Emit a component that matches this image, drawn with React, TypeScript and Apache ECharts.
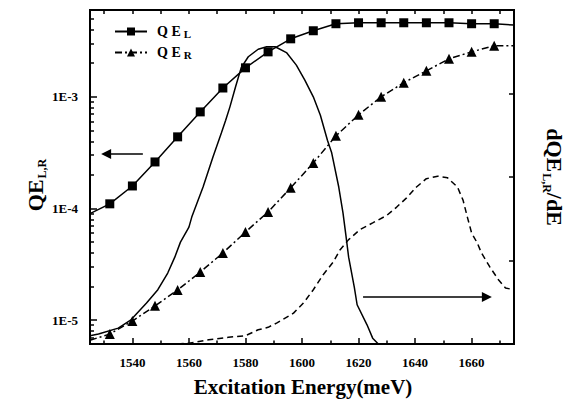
import React, { useEffect, useRef } from 'react';
import * as echarts from 'echarts';

// Excitation energies (meV) of the plotted markers
const energyMarkers = [1532, 1540, 1548, 1556, 1564, 1572, 1580, 1588, 1596, 1604, 1612, 1620, 1628, 1636, 1644, 1652, 1660, 1668];
// Quantum efficiency, left (squares) and right (triangles)
const qeL = [1.10e-4, 1.59e-4, 2.61e-4, 4.38e-4, 7.33e-4, 1.20e-3, 1.82e-3, 2.53e-3, 3.31e-3, 3.91e-3, 4.52e-3, 4.61e-3, 4.61e-3, 4.61e-3, 4.61e-3, 4.61e-3, 4.52e-3, 4.52e-3];
const qeR = [7.48e-6, 9.8e-6, 1.34e-5, 1.86e-5, 2.69e-5, 3.99e-5, 6.15e-5, 9.31e-5, 1.53e-4, 2.56e-4, 4.47e-4, 6.9e-4, 1.0e-3, 1.34e-3, 1.71e-3, 2.19e-3, 2.53e-3, 2.87e-3];
// Curve ends (no marker)
const qeEdgeEnergy = [1525, 1675];
const qeLEdge = [9.0e-5, 4.4e-3];
const qeREdge = [6.6e-6, 2.87e-3];

// Derivative curves (right axis, arbitrary units)
const dEnergyL = [1525, 1528, 1535, 1539.5, 1545, 1549, 1552.5, 1555, 1557, 1560, 1561, 1565, 1568.5, 1571.5, 1573, 1574.5, 1576.5, 1578.5, 1581, 1584.5, 1587.5, 1590.5, 1594.5, 1598, 1601, 1604, 1606.5, 1609, 1610.5, 1613, 1614.5, 1615.5, 1616.5, 1618.5, 1619.5, 1623, 1625, 1627, 1675];
const dQEL = [0.10, 0.12, 0.19, 0.29, 0.49, 0.65, 0.85, 1.04, 1.22, 1.40, 1.52, 1.88, 2.24, 2.53, 2.68, 2.84, 3.08, 3.31, 3.44, 3.53, 3.56, 3.56, 3.49, 3.34, 3.16, 2.96, 2.74, 2.44, 2.29, 1.88, 1.57, 1.31, 1.04, 0.68, 0.47, 0.23, 0.07, 0.0, 0.0];
const dEnergyR = [1556, 1560, 1567, 1574, 1580, 1584.5, 1588, 1591, 1597, 1600.5, 1604, 1607.5, 1611, 1613.5, 1616.5, 1620.5, 1625, 1630, 1633.5, 1637, 1640.5, 1644, 1648, 1651.5, 1655, 1657, 1658.5, 1660, 1662, 1663.5, 1666.5, 1669.5, 1672, 1675];
const dQER = [0.0, 0.01, 0.05, 0.08, 0.10, 0.17, 0.20, 0.25, 0.37, 0.49, 0.65, 0.83, 0.98, 1.13, 1.25, 1.37, 1.45, 1.54, 1.64, 1.75, 1.88, 1.98, 2.01, 1.99, 1.88, 1.72, 1.52, 1.33, 1.21, 1.09, 0.92, 0.77, 0.67, 0.65];

// Axis ranges and ticks
const X_MIN = 1525;
const X_MAX = 1675;
const Y_MIN = 6.1e-6;
const Y_MAX = 6.0e-3;
const R_MAX = 4;
const xMajorTicks = [1540, 1560, 1580, 1600, 1620, 1640, 1660];
const xMinorTicks = [1530, 1550, 1570, 1590, 1610, 1630, 1650, 1670];
const yMajorTicks = [1e-5, 1e-4, 1e-3];
const yMinorTicks = [7e-6, 8e-6, 9e-6, 2e-5, 3e-5, 4e-5, 5e-5, 6e-5, 7e-5, 8e-5, 9e-5, 2e-4, 3e-4, 4e-4, 5e-4, 6e-4, 7e-4, 8e-4, 9e-4, 2e-3, 3e-3, 4e-3, 5e-3];

// Arrows: [x start, x end, y]
const leftArrow = [1530.7, 1543.7, 3.08e-4];
const rightArrow = [1621.6, 1665.4, 0.563];

const FONT = 'Liberation Serif';
const GRID = { left: 90, right: 53, top: 10, bottom: 55 };
const W = 567;
const H = 399;

function withEdges(ys: number[], edge: number[]) {
  const pts: any[] = energyMarkers.map((x, i) => ({ value: [x, ys[i]] }));
  return [
    { value: [qeEdgeEnergy[0], edge[0]], symbol: 'none' },
    ...pts,
    { value: [qeEdgeEnergy[1], edge[1]], symbol: 'none' },
  ];
}

export default function App() {
  const ref = useRef<HTMLDivElement>(null);
  useEffect(() => {
    if (!ref.current) return;
    const chart = echarts.init(ref.current, null, { renderer: 'svg' });
    const plotW = W - GRID.left - GRID.right;
    const plotH = H - GRID.top - GRID.bottom;
    // tick lengths expressed in axis units of the grid
    const rPerPx = R_MAX / plotH;
    const xPerPx = (X_MAX - X_MIN) / plotW;
    const decadePerPx = Math.log10(Y_MAX / Y_MIN) / plotH;
    const xTickLines = [
      ...xMajorTicks.map((v) => [{ coord: [v, 0] }, { coord: [v, 6 * rPerPx] }]),
      ...xMinorTicks.map((v) => [{ coord: [v, 0] }, { coord: [v, 3.5 * rPerPx] }]),
      ...[...xMajorTicks, ...xMinorTicks].map((v) => [{ coord: [v, R_MAX] }, { coord: [v, R_MAX - 4 * rPerPx] }]),
    ];
    const yTickLines = [
      ...yMajorTicks.map((v) => [{ coord: [X_MIN, v] }, { coord: [X_MIN + 7 * xPerPx, v] }]),
      ...yMinorTicks.map((v) => [{ coord: [X_MIN, v] }, { coord: [X_MIN + 4 * xPerPx, v] }]),
    ];
    void decadePerPx;
    const tickMarkLine = (data: any[]) => ({
      silent: true,
      symbol: ['none', 'none'],
      label: { show: false },
      emphasis: { disabled: true },
      lineStyle: { color: '#000', width: 1.5, type: 'solid' },
      data,
    });
    const subRich = {
      m: { fontFamily: FONT, fontWeight: 'bold', fontSize: 22, color: '#000', verticalAlign: 'top', lineHeight: 24 },
      s: { fontFamily: FONT, fontWeight: 'bold', fontSize: 12, color: '#000', verticalAlign: 'bottom', lineHeight: 14, padding: [16, 0, 0, 1] },
    };
    chart.setOption({
      animation: false,
      grid: GRID,
      legend: {
        data: ['QE_L', 'QE_R'],
        orient: 'vertical',
        left: 109,
        top: 15,
        itemWidth: 32,
        itemHeight: 10,
        itemGap: 2,
        selectedMode: false,
        formatter: (name: string) => (name === 'QE_L' ? '{m|Q E}{s|L}' : '{m|Q E}{s|R}'),
        textStyle: {
          rich: {
            m: { fontFamily: FONT, fontWeight: 'bold', fontSize: 14, color: '#000', verticalAlign: 'top', lineHeight: 15, padding: [0, 0, 0, 5] },
            s: { fontFamily: FONT, fontWeight: 'bold', fontSize: 11, color: '#000', verticalAlign: 'bottom', lineHeight: 12, padding: [8, 0, 0, 3] },
          },
        },
      },
      xAxis: {
        type: 'value',
        min: X_MIN,
        max: X_MAX,
        interval: 5,
        axisLine: { show: true, onZero: false, lineStyle: { color: '#000', width: 2 } },
        axisTick: { show: false },
        splitLine: { show: false },
        axisLabel: {
          margin: 12,
          fontFamily: FONT,
          fontWeight: 'bold',
          fontSize: 13,
          color: '#000',
          formatter: (v: number) => (Math.round(v) % 20 === 0 && v > X_MIN && v < X_MAX ? String(Math.round(v)) : ''),
        },
      },
      yAxis: [
        {
          type: 'log',
          min: Y_MIN,
          max: Y_MAX,
          axisLine: { show: true, lineStyle: { color: '#000', width: 2 } },
          axisTick: { show: false },
          splitLine: { show: false },
          axisLabel: {
            margin: 12,
            fontFamily: FONT,
            fontWeight: 'bold',
            fontSize: 13,
            color: '#000',
            formatter: (v: number) => {
              const l = Math.log10(v);
              const e = Math.round(l);
              return Math.abs(l - e) < 1e-6 ? '1E' + e : '';
            },
          },
        },
        {
          type: 'value',
          min: 0,
          max: R_MAX,
          interval: 1,
          position: 'right',
          axisLine: { show: true, lineStyle: { color: '#000', width: 2 } },
          axisTick: { show: true, inside: true, length: 5, lineStyle: { color: '#000', width: 1.5 } },
          axisLabel: { show: false },
          splitLine: { show: false },
        },
      ],
      graphic: [
        {
          type: 'text',
          x: 36,
          y: 185,
          rotation: Math.PI / 2,
          style: { text: '{m|QE}{s|L,R}', rich: subRich, align: 'center', verticalAlign: 'middle' },
        },
        {
          type: 'text',
          x: 553,
          y: 177,
          rotation: -Math.PI / 2,
          style: { text: '{m|dQE}{s|L,R}{m|/dE}', rich: subRich, align: 'center', verticalAlign: 'middle' },
        },
        {
          type: 'text',
          x: 303,
          y: 387,
          style: { text: 'Excitation Energy(meV)', fontFamily: FONT, fontWeight: 'bold', fontSize: 21, fill: '#000', align: 'center', verticalAlign: 'middle' },
        },
      ],
      series: [
        {
          name: 'QE_L',
          type: 'line',
          symbol: 'rect',
          symbolSize: 9,
          color: '#000',
          lineStyle: { color: '#000', width: 1.5 },
          data: withEdges(qeL, qeLEdge),
          markLine: {
            silent: true,
            symbol: ['triangle', 'none'],
            symbolSize: 10,
            label: { show: false },
            lineStyle: { color: '#000', width: 1.5, type: 'solid' },
            data: [[{ coord: [leftArrow[0], leftArrow[2]] }, { coord: [leftArrow[1], leftArrow[2]] }]],
          },
        },
        {
          name: 'QE_R',
          type: 'line',
          symbol: 'triangle',
          symbolSize: 10,
          color: '#000',
          lineStyle: { color: '#000', width: 1.5, type: [7, 3, 2, 3] },
          data: withEdges(qeR, qeREdge),
          markLine: tickMarkLine(yTickLines),
        },
        {
          name: 'dQE_L',
          type: 'line',
          yAxisIndex: 1,
          symbol: 'none',
          color: '#000',
          lineStyle: { color: '#000', width: 1.5 },
          data: dEnergyL.map((x, i) => [x, dQEL[i]]),
          markLine: tickMarkLine(xTickLines),
        },
        {
          name: 'dQE_R',
          type: 'line',
          yAxisIndex: 1,
          symbol: 'none',
          color: '#000',
          lineStyle: { color: '#000', width: 1.5, type: [6, 4] },
          data: dEnergyR.map((x, i) => [x, dQER[i]]),
          markLine: {
            silent: true,
            symbol: ['none', 'triangle'],
            symbolSize: 10,
            label: { show: false },
            lineStyle: { color: '#000', width: 1.5, type: 'solid' },
            data: [[{ coord: [rightArrow[0], rightArrow[2]] }, { coord: [rightArrow[1], rightArrow[2]] }]],
          },
        },
      ],
    });
    return () => chart.dispose();
  }, []);
  return (
    <div style={{ position: 'absolute', left: 0, top: 0, width: W, height: H }}>
      <div ref={ref} style={{ position: 'absolute', left: 0, top: 0, width: W, height: H }} />
      <div
        style={{
          position: 'absolute',
          left: GRID.left - 1,
          top: GRID.top - 1,
          width: W - GRID.left - GRID.right + 2,
          height: H - GRID.top - GRID.bottom + 2,
          border: '2px solid #000',
          boxSizing: 'border-box',
          pointerEvents: 'none',
        }}
      />
    </div>
  );
}
